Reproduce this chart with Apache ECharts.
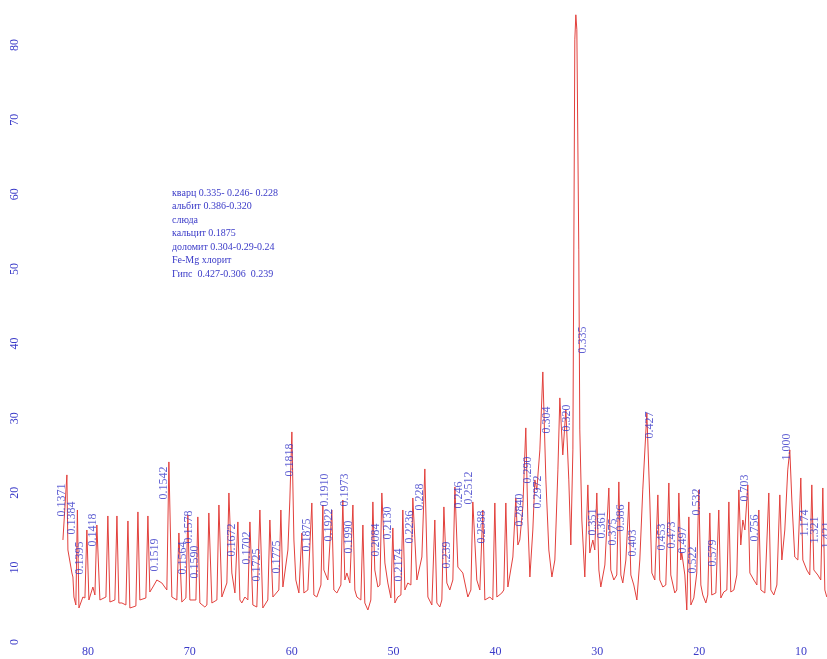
<!DOCTYPE html>
<html>
<head>
<meta charset="utf-8">
<script src="https://cdn.jsdelivr.net/npm/echarts@6/dist/echarts.min.js"></script>
<style>
  html, body { margin: 0; padding: 0; background: #fff; }
  #chart { width: 827px; height: 659px; }
</style>
</head>
<body>
<div id="chart"></div>
<script>
// дифрактограмма: [2θ, интенсивность]
const profile = [
  [82.45,13.67],[82.06,22.39],[81.96,12.33],[81.57,9.25],[81.47,8.71],[81.37,6.03],[81.18,4.96],[81.03,17.69],[80.88,4.56],[80.49,6.03],
  [80.29,5.90],[80.10,15.01],[79.90,5.63],[79.51,7.37],[79.31,6.30],[79.12,15.68],[78.82,5.63],[78.23,6.03],[78.04,16.89],[77.84,5.36],
  [77.35,5.63],[77.15,16.89],[76.96,5.23],[76.66,5.23],[76.27,4.96],[76.07,16.22],[75.88,4.56],[75.58,4.69],[75.29,4.83],[75.09,17.43],
  [74.90,5.63],[74.31,5.90],[74.11,16.89],[73.92,6.70],[73.62,7.37],[73.23,8.31],[72.74,7.91],[72.25,6.97],[72.05,24.13],[71.76,6.03],
  [71.27,5.63],[71.07,14.61],[70.78,5.36],[70.38,5.90],[70.19,17.02],[69.99,5.63],[69.40,5.63],[69.21,16.76],[69.01,5.23],[68.52,4.69],
  [68.32,4.96],[68.13,17.29],[67.83,5.23],[67.34,5.63],[67.14,18.36],[66.85,6.03],[66.36,7.91],[66.16,19.97],[65.87,9.25],[65.57,6.57],
  [65.28,16.09],[65.08,5.63],[64.89,5.23],[64.59,6.03],[64.30,5.63],[64.10,16.09],[63.81,4.96],[63.42,4.69],[63.12,17.69],[62.83,4.56],
  [62.34,5.63],[62.14,16.35],[61.84,6.03],[61.26,6.97],[61.06,17.69],[60.86,7.37],[60.37,12.33],[60.18,19.03],[59.98,28.15],[59.78,13.67],
  [59.59,8.31],[59.29,6.57],[59.00,14.61],[58.80,6.57],[58.41,6.97],[58.02,18.63],[57.82,6.30],[57.53,6.03],[57.13,7.64],[56.94,18.36],
  [56.84,9.65],[56.45,8.31],[56.06,17.69],[55.86,6.97],[55.56,6.57],[55.17,7.64],[54.98,19.03],[54.78,8.31],[54.58,9.25],[54.29,7.91],
  [53.99,18.36],[53.80,6.97],[53.60,6.03],[53.21,5.63],[53.01,15.68],[52.82,5.23],[52.52,4.29],[52.23,5.63],[52.03,18.77],[51.84,9.65],
  [51.54,7.37],[51.34,7.64],[51.15,19.97],[50.85,10.59],[50.56,7.91],[50.26,5.90],[50.07,15.28],[49.87,5.23],[49.58,6.03],[49.28,6.30],
  [49.09,17.69],[48.89,6.97],[48.60,7.91],[48.30,7.64],[48.11,19.30],[47.71,8.31],[47.22,11.39],[46.93,23.19],[46.63,6.03],[46.24,4.96],
  [45.95,16.35],[45.75,5.23],[45.46,4.69],[45.26,5.63],[45.06,18.10],[44.77,7.91],[44.48,6.97],[44.18,8.31],[43.98,20.78],[43.69,10.05],
  [43.20,9.25],[42.71,6.03],[42.41,6.97],[42.22,18.77],[41.83,8.31],[41.53,6.97],[41.24,17.69],[41.04,5.63],[40.55,6.03],[40.26,5.63],
  [40.06,18.63],[39.86,6.03],[39.37,6.57],[39.18,6.97],[38.98,18.63],[38.78,7.37],[38.29,11.39],[38.00,19.30],[37.80,13.00],[37.61,13.67],
  [37.31,18.10],[37.02,28.69],[36.82,16.35],[36.62,8.71],[36.33,15.01],[36.13,21.72],[35.94,20.38],[35.64,25.74],[35.35,36.19],[35.05,21.72],
  [34.76,12.33],[34.46,8.71],[34.17,10.99],[33.87,23.06],[33.68,32.71],[33.39,25.07],[33.09,31.10],[32.80,21.72],[32.60,13.00],[32.40,25.74],
  [32.21,80.70],[32.11,84.05],[32.01,82.04],[31.82,52.55],[31.72,28.42],[31.52,16.35],[31.23,8.71],[30.93,21.05],[30.74,11.93],[30.44,13.67],
  [30.25,12.33],[30.05,19.97],[29.85,9.65],[29.66,7.37],[29.26,10.32],[28.87,20.64],[28.68,9.65],[28.38,8.31],[28.09,8.98],[27.89,21.45],
  [27.69,8.98],[27.50,7.91],[27.20,10.99],[26.91,18.77],[26.71,8.98],[26.42,7.64],[26.12,5.63],[25.83,10.99],[25.54,20.38],[25.14,30.70],
  [24.85,19.03],[24.65,9.25],[24.36,8.31],[24.06,19.71],[23.87,8.31],[23.57,7.37],[23.28,7.64],[22.98,21.31],[22.79,8.98],[22.40,6.57],
  [22.20,6.97],[22.00,19.97],[21.81,10.99],[21.71,11.93],[21.41,8.98],[21.22,4.29],[21.02,16.76],[20.82,4.96],[20.53,5.90],[20.24,9.25],
  [20.04,20.38],[19.84,7.64],[19.65,6.30],[19.35,5.23],[19.16,6.30],[18.96,17.29],[18.77,6.30],[18.37,6.57],[18.08,17.69],[17.88,5.90],
  [17.59,6.70],[17.29,6.97],[17.09,18.77],[16.90,6.70],[16.60,6.97],[16.31,8.98],[16.11,20.38],[15.92,13.00],[15.72,16.35],[15.52,15.01],
  [15.23,21.05],[15.03,9.25],[14.64,8.31],[14.34,7.64],[14.15,17.69],[13.95,6.97],[13.56,6.57],[13.17,19.97],[12.97,6.97],[12.68,6.30],
  [12.38,7.64],[12.09,19.71],[11.89,10.99],[11.60,15.01],[11.31,23.06],[11.11,25.74],[10.91,19.03],[10.62,11.39],[10.32,10.99],[10.03,21.98],
  [9.83,10.99],[9.44,9.65],[9.15,8.98],[8.95,21.05],[8.75,9.65],[8.36,8.98],[8.07,8.31],[7.87,20.64],[7.67,6.97],[7.48,6.03]
];

// подписи межплоскостных расстояний: [2θ, уровень, d, нм]
const peakLabels = [
  [82.55,19.03,'0.1371'],[81.57,16.62,'0.1384'],[80.79,11.26,'0.1395'],[79.51,15.01,'0.1418'],
  [73.42,11.66,'0.1519'],[72.54,21.31,'0.1542'],[70.68,11.26,'0.1564'],[70.09,15.42,'0.1578'],
  [69.50,10.72,'0.1590'],[65.87,13.67,'0.1672'],[64.40,12.60,'0.1702'],[63.42,10.32,'0.1725'],
  [61.45,11.39,'0.1775'],[60.18,24.40,'0.1818'],[58.51,14.34,'0.1875'],[56.74,20.38,'0.1910'],
  [56.35,15.68,'0.1922'],[54.78,20.38,'0.1973'],[54.39,14.08,'0.1990'],[51.74,13.67,'0.2084'],
  [50.56,15.95,'0.2130'],[49.48,10.32,'0.2174'],[48.40,15.42,'0.2236'],[47.42,19.44,'0.228'],
  [44.77,11.66,'0.239'],[43.59,19.71,'0.246'],[42.61,20.64,'0.2512'],[41.33,15.42,'0.2588'],
  [37.61,17.69,'0.2840'],[36.82,23.06,'0.290'],[35.84,20.11,'0.2972'],[34.96,29.76,'0.304'],
  [32.99,30.03,'0.320'],[31.42,40.48,'0.335'],[30.44,16.09,'0.351'],[29.56,15.68,'0.361'],
  [28.48,14.75,'0.375'],[27.69,16.62,'0.386'],[26.52,13.27,'0.403'],[24.85,29.09,'0.427'],
  [23.67,14.08,'0.453'],[22.69,14.34,'0.473'],[21.61,13.67,'0.497'],[20.63,10.99,'0.522'],
  [20.24,18.77,'0.532'],[18.67,11.93,'0.579'],[15.52,20.64,'0.703'],[14.54,15.28,'0.756'],
  [11.40,26.14,'1.000'],[9.64,15.95,'1.174'],[8.66,15.01,'1.321'],[7.48,14.34,'1.421']
];

// расшифровка фаз
const phaseNotes = [
  'кварц 0.335- 0.246- 0.228',
  'альбит 0.386-0.320',
  'слюда',
  'кальцит 0.1875',
  'доломит 0.304-0.29-0.24',
  'Fe-Mg хлорит',
  'Гипс  0.427-0.306  0.239'
];

const blue = '#3a3ac8';
const red = '#e2403c';

const chart = echarts.init(document.getElementById('chart'));

// оси шире окна, чтобы кривая не обрезалась на 80° и 10°
const option = {
  backgroundColor: '#fff',
  animation: false,
  grid: { left: -14, right: -76, top: -29.6, bottom: 17, outerBoundsMode: 'none', containLabel: false },
  xAxis: {
    type: 'value',
    inverse: true,
    min: 0,
    max: 90,
    interval: 10,
    axisLine: { show: false },
    axisTick: { show: false },
    splitLine: { show: false },
    axisLabel: { color: blue, fontFamily: 'Liberation Serif', fontSize: 12, margin: 4 }
  },
  yAxis: {
    type: 'value',
    min: 0,
    max: 90,
    interval: 10,
    offset: -102,
    axisLine: { show: false },
    axisTick: { show: false },
    splitLine: { show: false },
    axisLabel: { color: blue, fontFamily: 'Liberation Serif', fontSize: 12, rotate: 90, margin: 67 }
  },
  graphic: phaseNotes.map((t, i) => ({
    type: 'text',
    left: 172,
    top: 188 + i * 13.5,
    style: { text: t, fill: blue, font: '10px "Liberation Serif"' }
  })),
  series: [
    {
      type: 'line',
      data: profile,
      showSymbol: false,
      lineStyle: { color: red, width: 1 },
      z: 2
    },
    {
      type: 'scatter',
      data: peakLabels,
      symbolSize: 0,
      encode: { x: 0, y: 1 },
      label: {
        show: true,
        position: 'inside',
        rotate: 90,
        formatter: p => p.value[2],
        color: blue,
        fontFamily: 'Liberation Serif',
        fontSize: 12
      },
      z: 3
    }
  ]
};

chart.setOption(option);
</script>
</body>
</html>
